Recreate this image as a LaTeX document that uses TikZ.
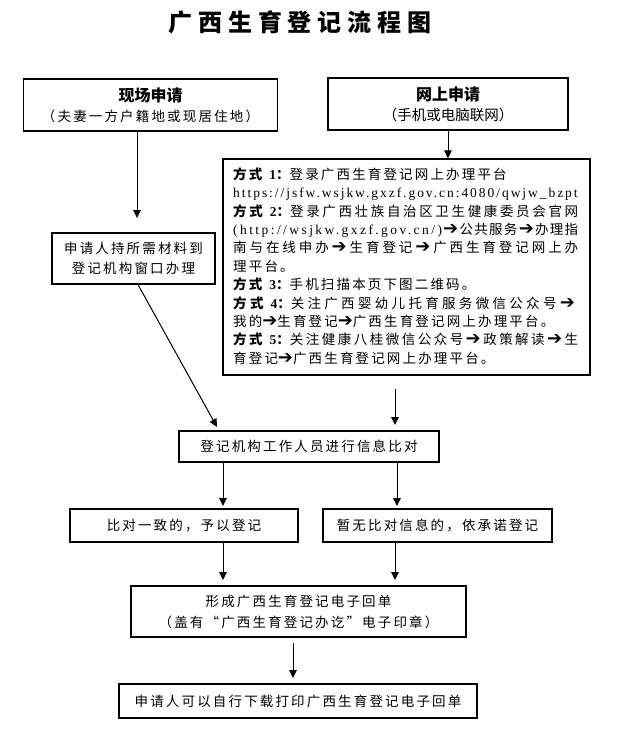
\documentclass[tikz,border=0pt]{standalone}
\usepackage{fontspec}
\setmainfont{Liberation Serif}
\newfontfamily\cjk[LetterSpace=16]{Noto Sans CJK SC}
\newfontfamily\hei{Noto Sans CJK SC}
\newfontfamily\ttlfont[LetterSpace=24]{Noto Sans CJK SC}
\newfontfamily\lat[LetterSpace=14.5]{Liberation Serif}
\newfontfamily\latb[LetterSpace=18]{Liberation Serif}
\newfontfamily\arfont{DejaVu Sans}
\usetikzlibrary{arrows.meta}
\newcount\cjkcc
\cjkcc="4E00
\loop
  \XeTeXcharclass\cjkcc=7
  \advance\cjkcc by 1
\ifnum\cjkcc<"A000 \repeat
\XeTeXcharclass"FF0C=7
\XeTeXcharclass"3002=7
\XeTeXcharclass"FF1A=7
\newcommand\jglue{\hskip 0pt plus 1pt minus 0.5pt}
\XeTeXinterchartoks 7 7 = {\jglue}
\newcommand\js[1]{\makebox[345pt][s]{\XeTeXinterchartokenstate=1 #1}}
\newcommand\rar{\jglue\makebox[15pt]{\arfont\fontsize{18}{18}\selectfont ➔}\jglue}
\newcommand\way[1]{{\bfseries 方式\hspace{7pt}{\lat\bfseries #1}：}}
\begin{document}
\begin{tikzpicture}[x=1pt,y=-1pt,
  box/.style={draw,line width=1.2pt,inner sep=0pt,align=center,
    font=\cjk\fontsize{13.5}{20}\selectfont},
  arr/.style={-{Triangle[length=8pt,width=7.5pt]},line width=1pt}]
\useasboundingbox (0,0) rectangle (621,738);
\node (title) at (300,22) {\ttlfont\bfseries\fontsize{24}{24}\selectfont 广西生育登记流程图};

\node[box, minimum width=254pt, minimum height=52pt] (xc) at (150.5,105)
  {{\hei\bfseries\fontsize{16}{20}\selectfont 现场申请}\\{\cjk\fontsize{13.5}{20}\selectfont （夫妻一方户籍地或现居住地）}};
\node[box, minimum width=240pt, minimum height=52pt] (ws) at (448,104)
  {{\hei\bfseries\fontsize{16}{20}\selectfont 网上申请}\\{\hei\fontsize{14.5}{20}\selectfont （手机或电脑联网）}};
\node[box, minimum width=163pt, minimum height=51pt] (lb) at (133.5,258.5)
  {申请人持所需材料到\\登记机构窗口办理};
\node[box, minimum width=367pt, minimum height=216pt] (big) at (406.5,267) {};
\node[anchor=west, align=left, inner sep=0pt, font=\cjk\fontsize{13.5}{18.4}\selectfont] (bigtxt) at (233,266) {%
\way{1}登录广西生育登记网上办理平台\\
{\lat https://jsfw.wsjkw.gxzf.gov.cn:4080/qwjw\_bzpt}\\
\js{\way{2}登录广西壮族自治区卫生健康委员会官网}\\
\js{{\latb (http://wsjkw.gxzf.gov.cn/)}\rar 公共服务\rar 办理指}\\
\js{南与在线申办\rar 生育登记\rar 广西生育登记网上办}\\
理平台。\\
\way{3}手机扫描本页下图二维码。\\
\js{\way{4}关注广西婴幼儿托育服务微信公众号\rar}\\
我的\rar 生育登记\rar 广西生育登记网上办理平台。\\
\js{\way{5}关注健康八桂微信公众号\rar 政策解读\rar 生}\\
育登记\rar 广西生育登记网上办理平台。};

\node[box, minimum width=260pt, minimum height=31pt] (mid) at (309,446.5) {登记机构工作人员进行信息比对};
\node[box, minimum width=228pt, minimum height=33pt] (l2) at (184,525.5) {比对一致的，予以登记};
\node[box, minimum width=229pt, minimum height=33pt] (r2) at (437.5,525.5) {暂无比对信息的，依承诺登记};
\node[box, minimum width=335pt, minimum height=51pt, font=\cjk\fontsize{13.5}{21}\selectfont] (form) at (298.5,611.5)
  {形成广西生育登记电子回单\\（盖有“广西生育登记办讫”电子印章）};
\node[box, minimum width=358pt, minimum height=34pt] (fin) at (298,701) {申请人可以自行下载打印广西生育登记电子回单};

\coordinate (t1) at (137,218);
\coordinate (s3) at (138,284);
\coordinate (t3) at (217,427);
\coordinate (s4) at (395,389);
\coordinate (t4) at (395,425);
\coordinate (t5) at (223,506);
\coordinate (t6) at (397,506);
\coordinate (t7) at (223,580);
\coordinate (t8) at (395,580);
\coordinate (s9) at (293,643);
\coordinate (t9) at (293,678);

\draw[arr] (xc.south -| t1) -- (t1);
\draw[arr] (ws.south) -- (ws.south |- big.north);
\draw[arr] (lb.south -| s3) -- (t3);
\draw[arr] (s4) -- (t4);
\draw[arr] (mid.south -| t5) -- (t5);
\draw[arr] (mid.south -| t6) -- (t6);
\draw[arr] (l2.south -| t7) -- (t7);
\draw[arr] (r2.south -| t8) -- (t8);
\draw[arr] (s9) -- (t9);
\end{tikzpicture}
\end{document}
